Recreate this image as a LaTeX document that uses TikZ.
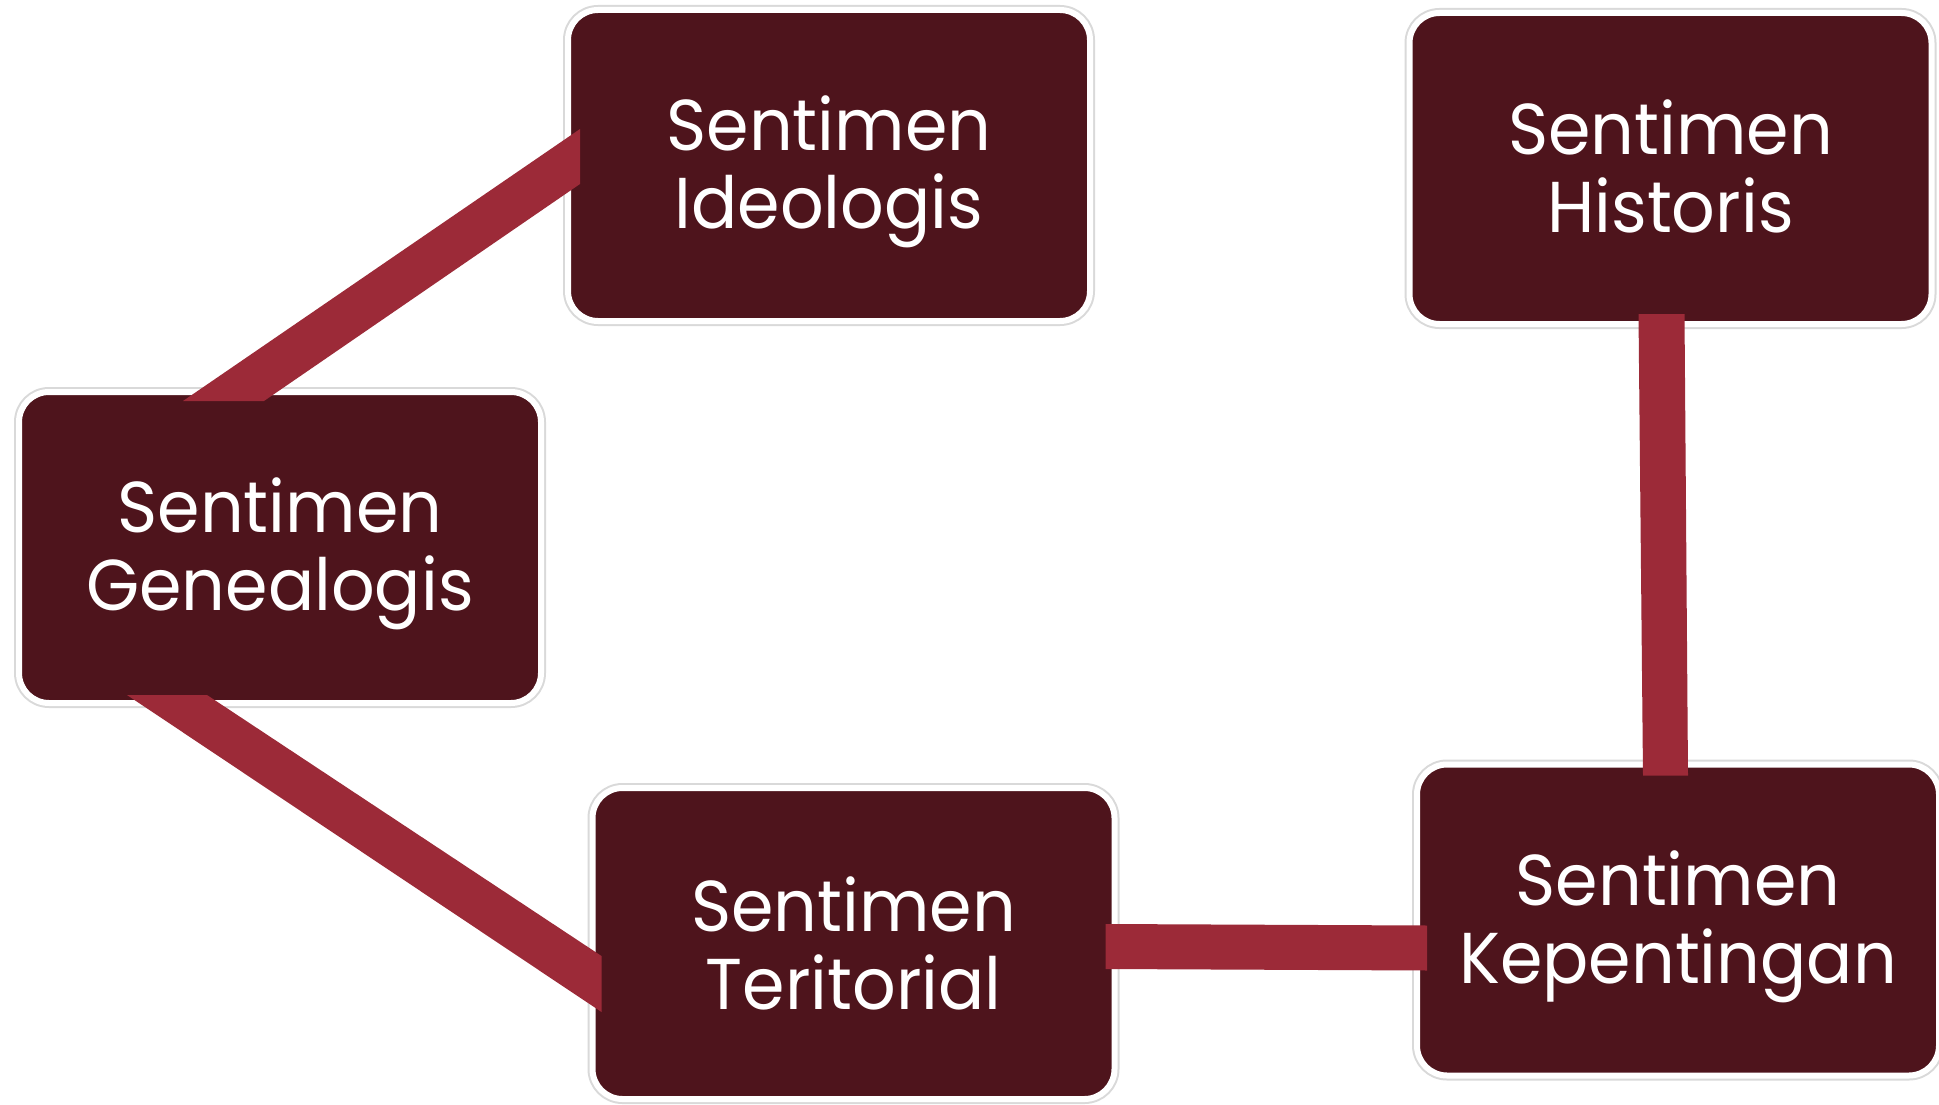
\documentclass[tikz,border=0pt]{standalone}
\usepackage{fontspec}
\setmainfont{Poppins}[FakeStretch=0.95]
\usetikzlibrary{calc}
\definecolor{boxfill}{RGB}{78,20,28}
\definecolor{connfill}{RGB}{156,42,56}
\tikzset{
  sbox/.style={rectangle, rounded corners=30pt, fill=boxfill, draw=white, line width=6pt,
    minimum width=522pt, minimum height=311pt, inner sep=0pt,
    preaction={draw=black!15, line width=10pt}},
  btext/.style={align=center, text=white, inner sep=0pt,
    font=\fontsize{72}{78}\selectfont},
  conn/.style={fill=connfill, draw=none}
}
\begin{document}
\begin{tikzpicture}[x=1pt,y=-1pt]
\useasboundingbox[fill=white] (0,0) rectangle (1939,1105);
\node[sbox] (ideo) at (829,165.5) {};
\node[sbox] (hist) at (1670.5,168.5) {};
\node[sbox] (gen) at (280,547.5) {};
\node[sbox] (teri) at (853.5,943.5) {};
\node[sbox] (kep) at (1678,920) {};
% connectors
\fill[conn] ($(gen.north west)+(167,12)$) -- ($(gen.north west)+(248,12)$)
  -- ($(ideo.north west)+(15,177)$) -- ($(ideo.north west)+(15,122)$) -- cycle;
\fill[conn] ($(gen.south west)+(111,-11)$) -- ($(gen.south west)+(191,-11)$)
  -- ($(teri.north west)+(12,171)$) -- ($(teri.north west)+(12,227)$) -- cycle;
\fill[conn] ($(teri.north east)+(-12,139)$) -- ($(kep.north west)+(13,164)$)
  -- ($(kep.north west)+(13,209)$) -- ($(teri.north east)+(-12,184)$) -- cycle;
\fill[conn] ($(hist.south west)+(232,-13)$) -- ($(hist.south west)+(278,-13)$)
  -- ($(kep.north west)+(274,14)$) -- ($(kep.north west)+(229,14)$) -- cycle;
% texts
\node[btext] (ideoT) at ($(ideo.center)+(0,6)$) {Sentimen\\Ideologis};
\node[btext] (histT) at ($(hist.center)+(0,-2)$) {Sentimen\\Historis};
\node[btext] (genT) at ($(gen.center)+(0,6)$) {Sentimen\\Genealogis};
\node[btext] (teriT) at ($(teri.center)+(0,0)$) {Sentimen\\Teritorial};
\node[btext] (kepT) at ($(kep.center)+(0,7)$) {Sentimen\\Kepentingan};
\end{tikzpicture}
\end{document}
